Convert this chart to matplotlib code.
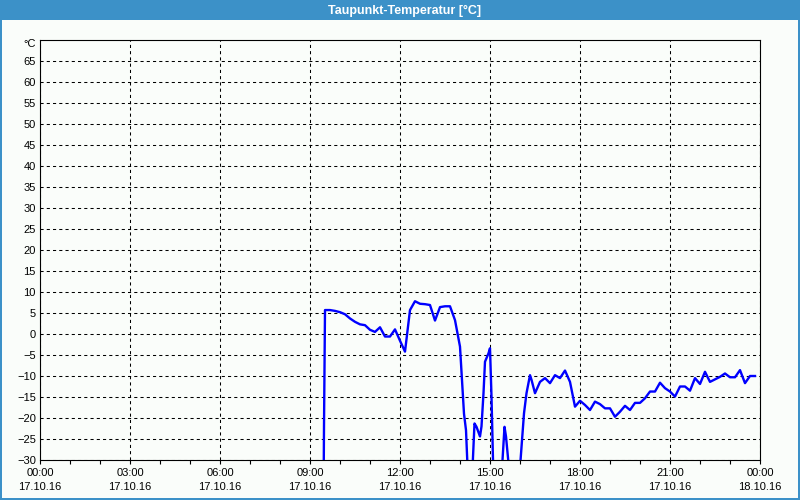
import numpy as np
import pandas as pd
import matplotlib
matplotlib.use("Agg")
import matplotlib.pyplot as plt
import matplotlib.dates as mdates
from matplotlib.patches import Rectangle

plt.rcParams['font.family'] = ['Liberation Sans', 'DejaVu Sans']

# dew point readings, 17.10.16 (values below -30 are off the chart)
times = [
    "09:26", "09:28", "09:30", "09:40", "09:50", "10:00", "10:10", "10:20",
    "10:30", "10:40", "10:50", "11:00", "11:10", "11:20", "11:30", "11:40",
    "11:50", "12:00", "12:10", "12:20", "12:30", "12:40", "12:50", "13:00",
    "13:10", "13:20", "13:30", "13:40", "13:50", "14:00", "14:04", "14:08",
    "14:12", "14:18", "14:22", "14:29", "14:33", "14:40", "14:43", "14:47",
    "14:50", "14:57", "15:00", "15:03", "15:06", "15:10", "15:20", "15:29",
    "15:32", "15:38", "15:45", "15:58", "16:08", "16:13", "16:20", "16:23",
    "16:30", "16:40", "16:50", "17:00", "17:10", "17:20", "17:30", "17:40",
    "17:50", "18:00", "18:10", "18:20", "18:30", "18:40", "18:50", "19:00",
    "19:10", "19:20", "19:30", "19:40", "19:50", "20:00", "20:10", "20:20",
    "20:30", "20:40", "20:50", "21:00", "21:10", "21:20", "21:30", "21:40",
    "21:50", "22:00", "22:10", "22:20", "22:30", "22:40", "22:50", "23:00",
    "23:10", "23:20", "23:30", "23:40", "23:50",
]
dewpoint = [
    -60, -22, 5.7, 5.7, 5.5, 5.2, 4.7, 3.7,
    2.9, 2.3, 2.1, 1.0, 0.5, 1.6, -0.6, -0.6,
    1.1, -1.6, -4.2, 5.7, 7.8, 7.2, 7.1, 6.9,
    3.2, 6.4, 6.6, 6.6, 3.3, -3.0, -11.0, -19.0,
    -22.9, -40, -40, -21.3, -22.1, -24.4, -22.0, -14.1,
    -6.6, -4.6, -3.4, -14.9, -30, -40, -40, -22.1,
    -24.4, -32, -40, -35, -18.9, -14.1, -9.8, -10.9,
    -14.1, -11.4, -10.5, -11.7, -9.8, -10.5, -8.7, -11.4,
    -17.3, -15.9, -16.9, -18.1, -16.1, -16.7, -17.7, -17.7,
    -19.7, -18.5, -17.1, -18.1, -16.4, -16.4, -15.3, -13.7,
    -13.7, -11.6, -12.9, -13.7, -14.9, -12.5, -12.5, -13.5,
    -10.5, -11.9, -9.0, -11.4, -10.8, -10.2, -9.4, -10.3,
    -10.3, -8.6, -11.7, -10.0, -10.0,
]
t = pd.to_datetime(["2016-10-17 " + s for s in times])

bg = '#fafdfa'
bar = '#3c91c8'

fig = plt.figure(figsize=(8, 5), dpi=100, facecolor=bg)
ax = fig.add_axes([0.05, 0.08, 0.90, 0.84], facecolor=bg)

ax.plot(t, dewpoint, color='#0000ff', lw=1.7, zorder=3)

ax.set_xlim(pd.Timestamp("2016-10-17 00:00"), pd.Timestamp("2016-10-18 00:00"))
ax.set_ylim(-30, 70)

ax.xaxis.set_major_locator(mdates.HourLocator(byhour=range(0, 24, 3)))
ax.xaxis.set_minor_locator(mdates.HourLocator())
ax.xaxis.set_major_formatter(mdates.DateFormatter('%H:%M\n%d.%m.%y'))
ax.set_yticks(np.arange(-30, 70, 5))

ax.tick_params(axis='x', which='both', direction='out', length=3, width=0.8,
               pad=2.5, labelsize=8, color='black')
ax.tick_params(axis='y', length=0, pad=3, labelsize=8)
for lab in ax.get_xticklabels():
    lab.set_linespacing(1.5)

ax.grid(True, which='major', color='black', lw=0.75, linestyle=(0, (3, 3)))
for sp in ax.spines.values():
    sp.set_linewidth(0.8)
    sp.set_color('black')

ax.text(-0.006, 69, '°C', transform=ax.get_yaxis_transform(), ha='right',
        va='center', fontsize=8)

# window frame and title bar
fig.patches.append(Rectangle((0, 0.96), 1, 0.04, transform=fig.transFigure,
                             facecolor=bar, edgecolor='none', zorder=0))
fig.patches.append(Rectangle((0, 0), 0.0025, 1, transform=fig.transFigure,
                             facecolor=bar, edgecolor='none', zorder=0))
fig.patches.append(Rectangle((0.9975, 0), 0.0025, 1, transform=fig.transFigure,
                             facecolor=bar, edgecolor='none', zorder=0))
fig.patches.append(Rectangle((0, 0), 1, 0.004, transform=fig.transFigure,
                             facecolor=bar, edgecolor='none', zorder=0))
fig.text(0.506, 0.979, 'Taupunkt-Temperatur [°C]', color='white', fontsize=9,
         fontweight='bold', ha='center', va='center')

fig.savefig('out.png', dpi=100, facecolor=bg)
